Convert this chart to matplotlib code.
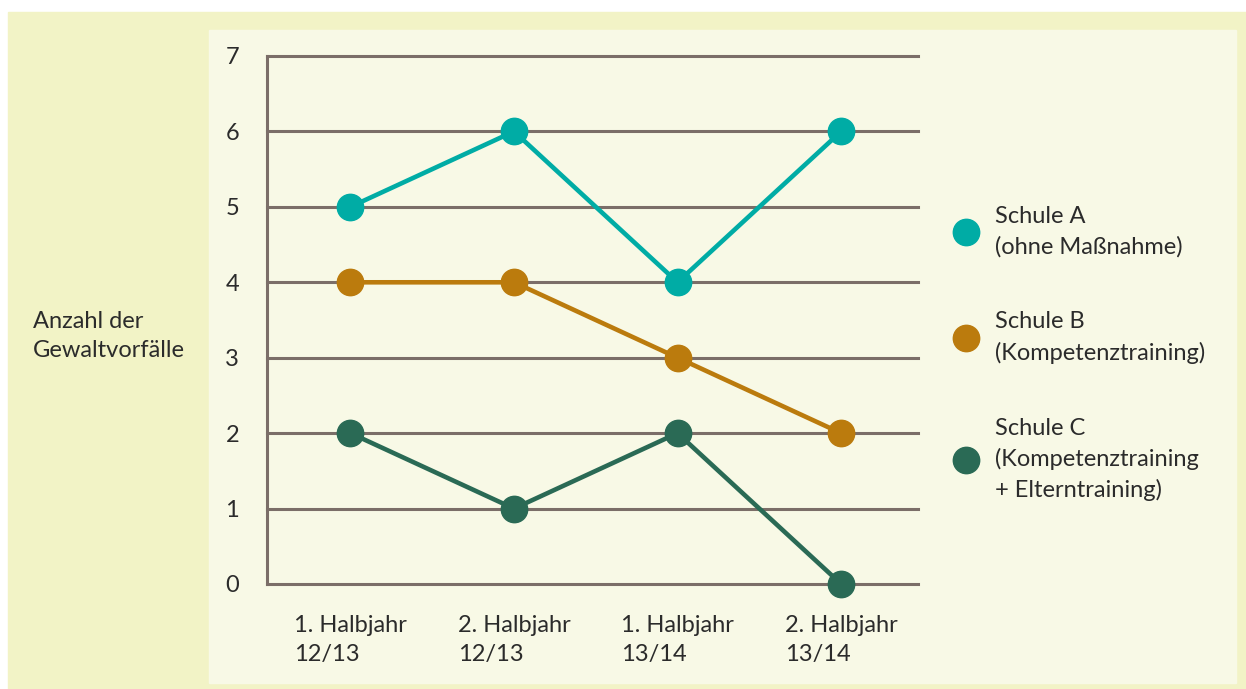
import matplotlib.pyplot as plt
from matplotlib.patches import Rectangle
from matplotlib.lines import Line2D

plt.rcParams['font.family'] = ['Lato', 'DejaVu Sans']

# Data
periods = ['1. Halbjahr\n12/13', '2. Halbjahr\n12/13', '1. Halbjahr\n13/14', '2. Halbjahr\n13/14']
schule_a = [5, 6, 4, 6]
schule_b = [4, 4, 3, 2]
schule_c = [2, 1, 2, 0]
labels = ['Schule A\n(ohne Maßnahme)',
          'Schule B\n(Kompetenztraining)',
          'Schule C\n(Kompetenztraining\n+ Elterntraining)']
colors = ['#00aca5', '#bb7b0d', '#2a6a55']

grid_col = '#7b6e68'
text_col = '#2b2b2b'
fs = 17

fig = plt.figure(figsize=(12.46, 6.89), dpi=100)
fig.patch.set_facecolor('white')

# Background panels
fig.add_artist(Rectangle((8 / 1246, 0), 1 - 8 / 1246, 1 - 12 / 689,
                         transform=fig.transFigure, color='#f2f3c6', zorder=0))
fig.add_artist(Rectangle((209 / 1246, 6 / 689), (1236 - 209) / 1246, (683 - 30) / 689,
                         transform=fig.transFigure, color='#f8f9e6', zorder=0))

ax = fig.add_axes([267 / 1246, 1 - 584 / 689, (918 - 267) / 1246, (584 - 56) / 689])
ax.set_facecolor('none')

x = list(range(len(periods)))
for ys, c in zip([schule_a, schule_b, schule_c], colors):
    ax.plot(x, ys, color=c, linewidth=3.3, marker='o', markersize=19,
            clip_on=False, zorder=3)

ax.set_xlim(-0.51, 3.47)
ax.set_ylim(0, 7)
ax.set_yticks(range(0, 8))
ax.set_xticks(x)
ax.set_xticklabels(periods, fontsize=fs, color=text_col, linespacing=1.5,
                   multialignment='left')
ax.tick_params(axis='both', length=0, labelsize=fs, labelcolor=text_col)
ax.tick_params(axis='y', pad=20)
ax.tick_params(axis='x', pad=22)

for yv in range(0, 8):
    ax.axhline(yv, color=grid_col, linewidth=2.2, zorder=1, clip_on=False)

for s in ['top', 'right', 'bottom']:
    ax.spines[s].set_visible(False)
ax.spines['left'].set_color(grid_col)
ax.spines['left'].set_linewidth(2.2)

# Y label
fig.text(33 / 1246, 1 - 336 / 689, 'Anzahl der\nGewaltvorfälle', fontsize=fs,
         color=text_col, ha='left', va='center', linespacing=1.5)

# Legend
handles = [Line2D([], [], linestyle='none', marker='o', markersize=19,
                  color=c) for c in colors]
leg = fig.legend(handles, labels, loc='upper left',
                 bbox_to_anchor=(940 / 1246, 1 - 194 / 689),
                 frameon=False, fontsize=fs, labelspacing=2.3,
                 handletextpad=0.65, handlelength=1.2, borderpad=0)
for t in leg.get_texts():
    t.set_color(text_col)
    t.set_linespacing(1.5)

fig.savefig('out.png', dpi=100)
